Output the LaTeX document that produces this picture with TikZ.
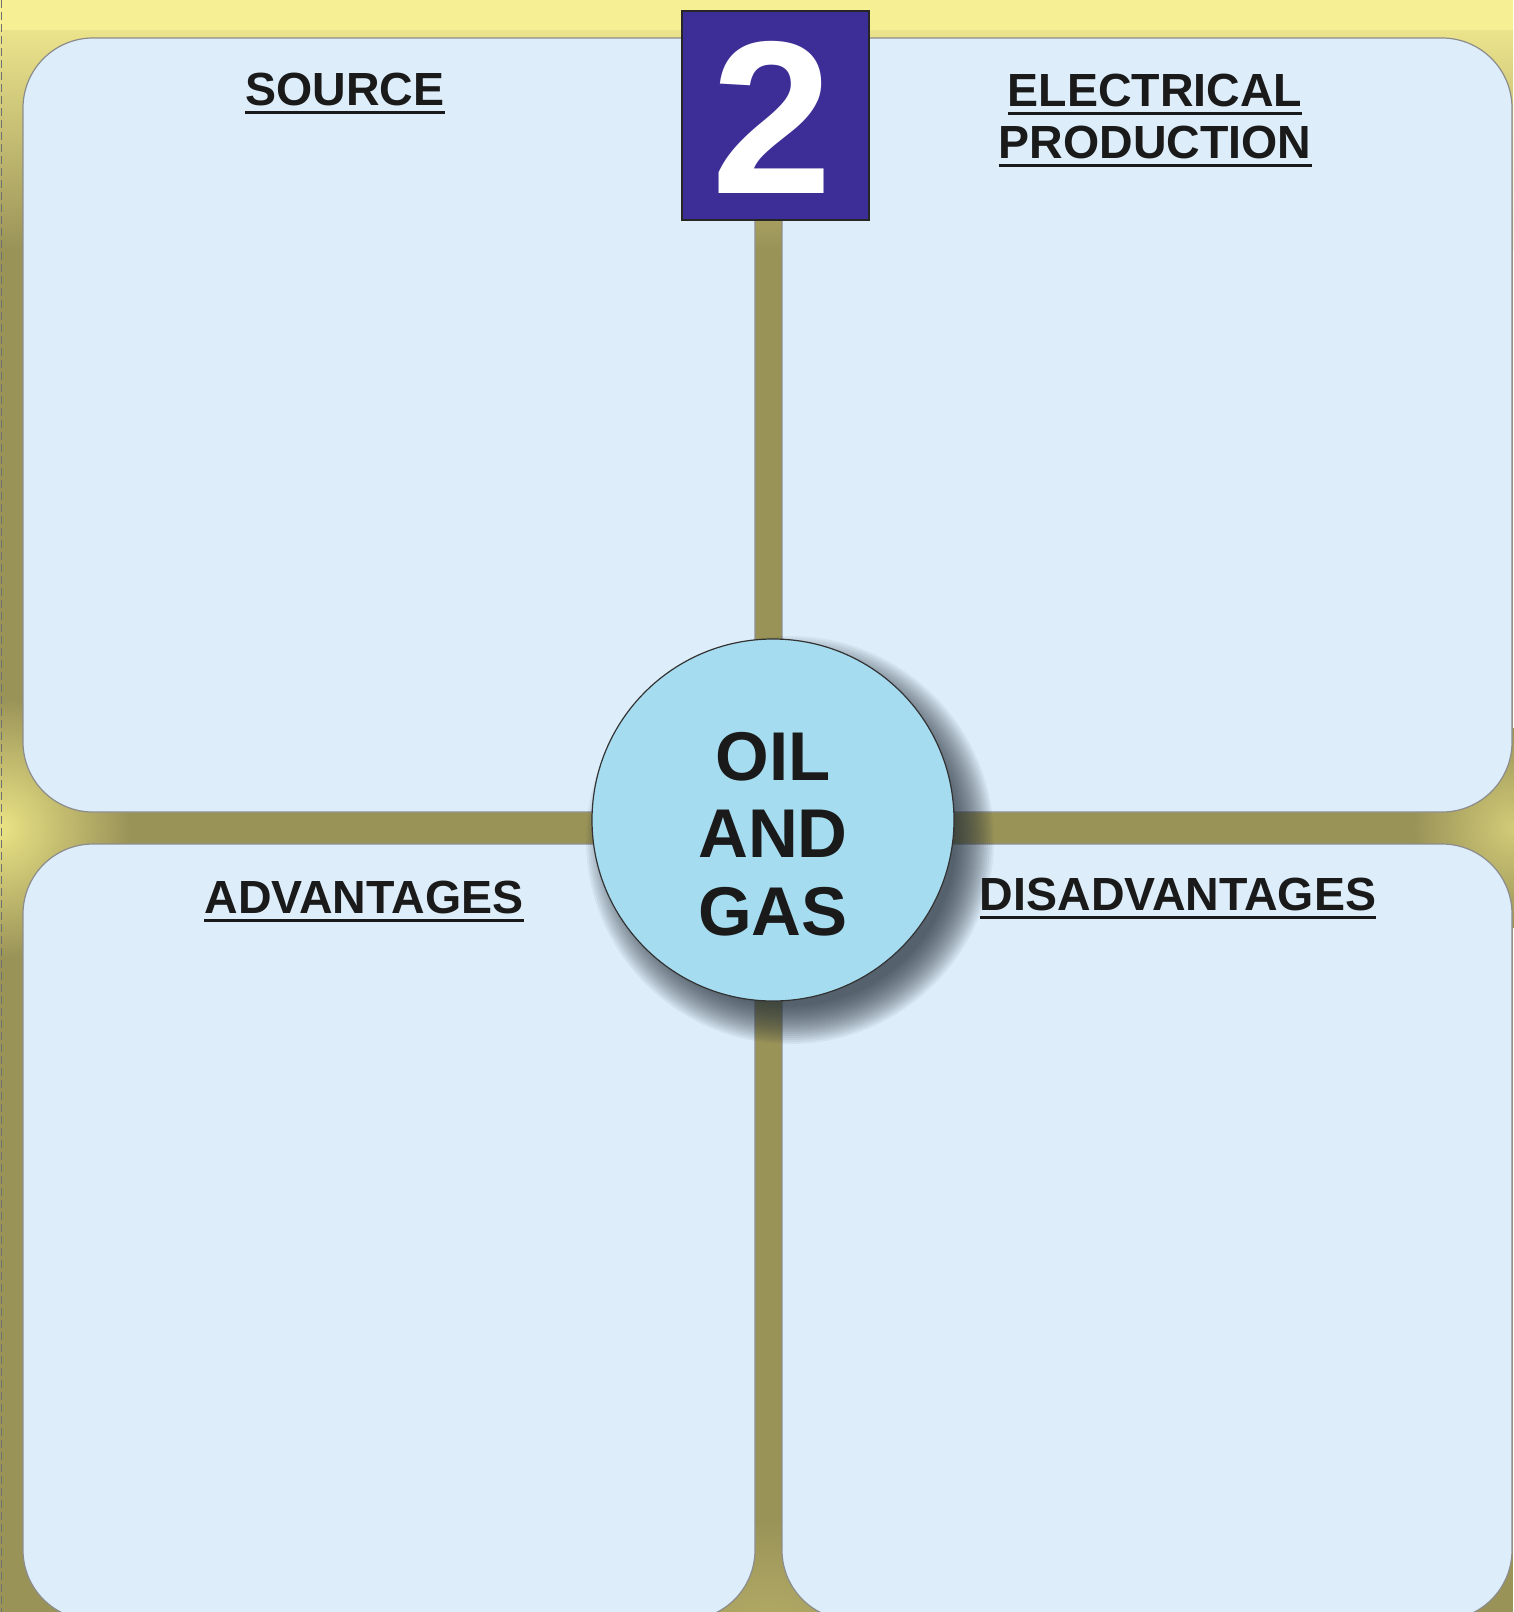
\documentclass[tikz,border=0pt]{standalone}
\usepackage{fontspec}
\setmainfont{Liberation Sans}
\definecolor{olive}{HTML}{9A9358}
\definecolor{yel}{HTML}{F7EF93}
\definecolor{glow}{HTML}{EAE385}
\definecolor{boxfill}{HTML}{DDEEFA}
\definecolor{boxline}{HTML}{8C8C8C}
\definecolor{corefill}{HTML}{A6DCEF}
\definecolor{purp}{HTML}{3D2D96}
\definecolor{ink}{HTML}{1A1A1A}
\definecolor{shadowc}{HTML}{24303B}
\tikzset{
  panel/.style={draw=boxline, line width=1.2pt, fill=boxfill, rounded corners=70pt,
    inner sep=0pt, outer sep=0pt, minimum width=#1},
  head/.style={font=\fontsize{46.5}{52}\selectfont\bfseries, text=ink, inner sep=0pt, anchor=base},
  ul/.style={draw=ink, line width=3pt},
  coretxt/.style={font=\fontsize{69}{78}\selectfont\bfseries, text=ink, inner sep=0pt, anchor=base},
}
\begin{document}
\begin{tikzpicture}[x=1pt,y=-1pt]
\useasboundingbox (0,0) rectangle (1513,1612);
% background frame
\fill[olive] (0,0) rectangle (1513,1612);
\shade[top color=yel, middle color=yel!85!olive, bottom color=olive] (0,0) rectangle (1513,250);
\fill[yel] (0,0) rectangle (1513,30);
\shade[inner color=glow, outer color=olive] (0,828) circle (130pt);
\shade[inner color=glow!70!olive, outer color=olive] (1513,828) circle (100pt);
\shade[inner color=olive!60!glow, outer color=olive] (768,1660) circle (140pt);
\draw[boxline!80!black, line width=1pt, dash pattern=on 8pt off 4pt] (1,0) -- (1,1612);
% panels
\node[panel=732pt, minimum height=774pt] (tl) at (389,425) {};
\node[panel=730pt, minimum height=774pt] (tr) at (1147,425) {};
\node[panel=732pt, minimum height=776pt] (bl) at (389,1232) {};
\node[panel=730pt, minimum height=776pt] (br) at (1147,1232) {};
% shadow of the centre circle
\foreach \r in {166,168,...,204}
  \fill[shadowc, opacity=0.06] (790,840) circle (\r pt);
% centre circle
\node[circle, draw=black!80, line width=1.2pt, fill=corefill, minimum size=362pt,
  inner sep=0pt] (core) at (773,820) {};
\node[coretxt] (oil) at (773,780) {OIL};
\node[coretxt] (and) at (773,857) {AND};
\node[coretxt] (gas) at (773,935) {GAS};
% number tab
\node[draw=black!85, line width=1.2pt, fill=purp, minimum width=187pt, minimum height=209pt,
  inner sep=0pt] (num) at (775.5,115.5) {};
\node[font=\fontsize{218}{218}\selectfont\bfseries, text=white, inner sep=0pt, anchor=base]
  (two) at (772,193) {2};
% headings
\node[head] (src) at (345,105) {SOURCE};
\node[head] (el1) at (1155,106) {ELECTRICAL};
\node[head] (el2) at (1155,158) {PRODUCTION};
\node[head] (adv) at (364,913) {ADVANTAGES};
\node[head] (dis) at (1178,910) {DISADVANTAGES};
\foreach \n in {src,el1,el2,adv,dis}
  \draw[ul] ([yshift=-7pt]\n.base west) -- ([yshift=-7pt]\n.base east);
\end{tikzpicture}
\end{document}
